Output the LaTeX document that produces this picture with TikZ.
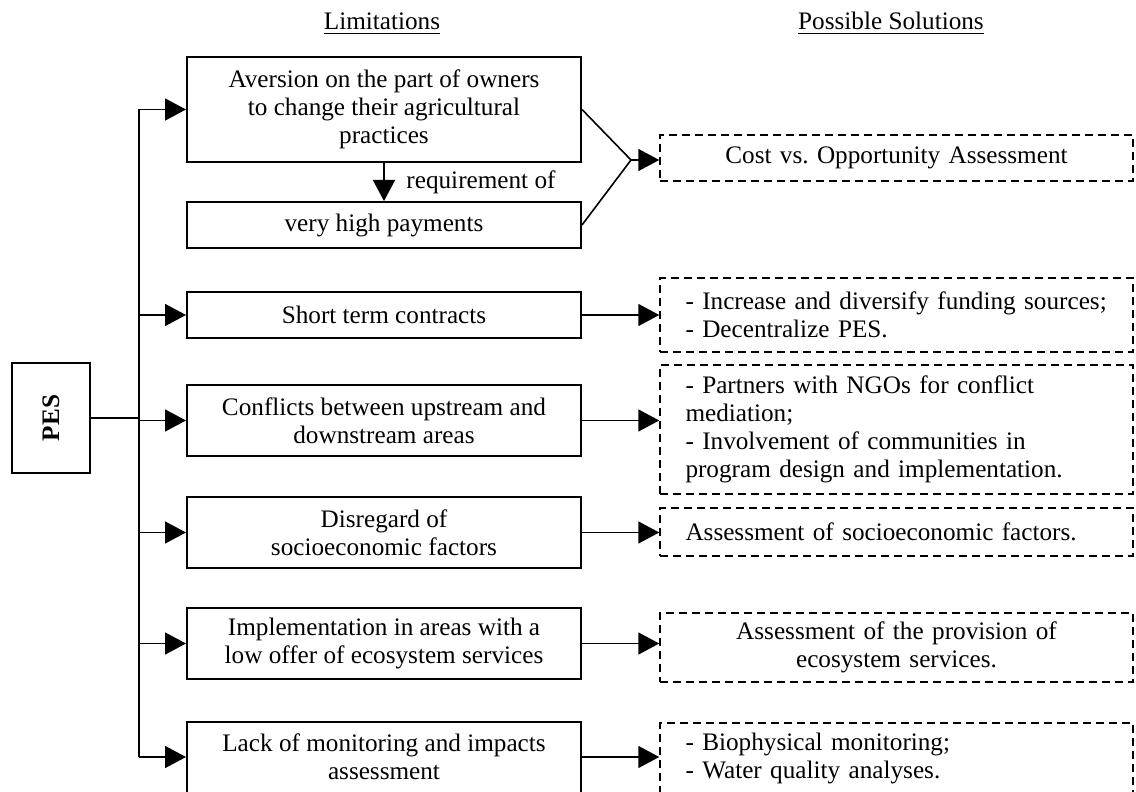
\documentclass[tikz,border=0pt]{standalone}
\usepackage{fontspec}
\setmainfont{Liberation Serif}
\usepackage{graphicx}
\usepackage{tikz}
\usetikzlibrary{arrows.meta, positioning, calc}

\begin{document}
\begin{tikzpicture}[x=0.5pt, y=-0.5pt, font=\fontsize{12.6}{14}\selectfont,
        limbox/.style={draw, line width=1pt, minimum width=197pt, align=center, inner sep=2pt},
        solbox/.style={draw, line width=0.75pt, dash pattern=on 4pt off 2.5pt, text width=211pt,
            inner xsep=12.75pt, inner ysep=2pt, align=left},
        arr/.style={-{Triangle[length=10.5pt, width=11pt]}, line width=0.8pt}]
        \useasboundingbox (0,0) rectangle (1136,792);

        % Column headings
        \node[anchor=base] (limhead) at (382,30) {\underline{Limitations}};
        \node[anchor=base] (solhead) at (891,30) {\underline{Possible Solutions}};

        % PES box and trunk
        \node[draw, line width=1.35pt, minimum width=39pt, minimum height=55pt] (pes) at (51,418)
            {\rotatebox{90}{\bfseries PES}};
        \coordinate (trunk) at (139,418);

        % Limitations
        \node[limbox, minimum height=52.5pt] (lim1) at (384,109.5)
            {Aversion on the part of owners\\to change their agricultural\\practices};
        \node[limbox, minimum height=23pt] (lim2) at (384,225) {very high payments};
        \node[limbox, minimum height=23pt] (lim3) at (384,315) {Short term contracts};
        \node[limbox, minimum height=35.5pt] (lim4) at (384,420.5) {Conflicts between upstream and\\downstream areas};
        \node[limbox, minimum height=35.5pt] (lim5) at (384,532.5) {Disregard of\\socioeconomic factors};
        \node[limbox, minimum height=35.5pt] (lim6) at (384,643.5) {Implementation in areas with a\\low offer of ecosystem services};
        \node[limbox, minimum height=35.5pt] (lim7) at (384,757) {Lack of monitoring and impacts\\assessment};

        % Possible solutions
        \node[solbox, align=center, minimum height=23pt] (sol1) at (896.5,158) {Cost vs.\ Opportunity Assessment};
        \node[solbox, minimum height=37pt] (sol2) at (896.5,315)
            {- Increase and diversify funding sources;\\- Decentralize PES.};
        \node[solbox, minimum height=64.5pt] (sol3) at (896.5,429.5)
            {- Partners with NGOs for conflict\\mediation;\\- Involvement of communities in\\program design and implementation.};
        \node[solbox, minimum height=24pt] (sol4) at (896.5,532) {Assessment of socioeconomic factors.};
        \node[solbox, align=center, minimum height=34.5pt] (sol5) at (896.5,647.5)
            {Assessment of the provision of\\ecosystem services.};
        \node[solbox, minimum height=35pt] (sol6) at (896.5,758)
            {- Biophysical monitoring;\\- Water quality analyses.};

        % Connectors on the left
        \draw[line width=0.8pt] (pes.east) -- (trunk);
        \draw[line width=0.8pt] (trunk |- lim1.west) -- (trunk |- lim7.west);
        \foreach \i in {1,3,4,5,6,7} {
            \draw[arr] (trunk |- lim\i.west) -- (lim\i.west);
        }
        \draw[arr] (lim1.south) -- node[right, xshift=7.5pt] (req) {requirement of} (lim2.north);

        % Connectors on the right
        \coordinate (join) at (631,160);
        \draw[line width=0.8pt] (lim1.east) -- (join) -- (lim2.east);
        \draw[arr] (join) -- (join -| sol1.west);
        \foreach \i/\j in {3/2, 4/3, 5/4, 6/5, 7/6} {
            \draw[arr] (lim\i.east) -- (lim\i.east -| sol\j.west);
        }
    \end{tikzpicture}
\end{document}
